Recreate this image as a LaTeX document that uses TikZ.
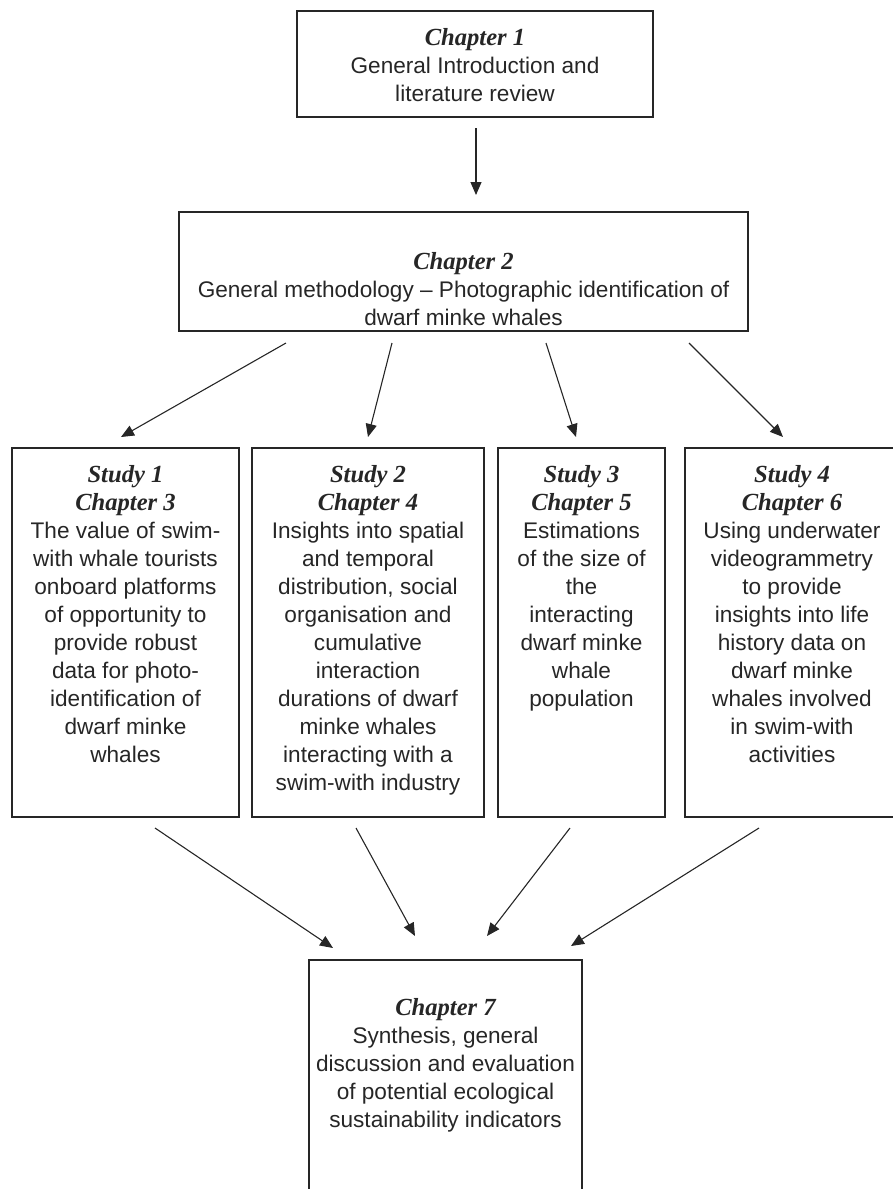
\documentclass[tikz,border=0pt]{standalone}
\usepackage{fontspec}
\setmainfont{Liberation Sans}
\newfontfamily\headserif{Liberation Serif}
\usetikzlibrary{arrows.meta,positioning}
\definecolor{inkgrey}{RGB}{38,38,38}
\newcommand{\chaphead}[1]{{\headserif\bfseries\itshape\fontsize{12.3}{14}\selectfont #1}}
\tikzset{
  chapbox/.style={draw=inkgrey,line width=0.65pt,inner sep=0pt,outer sep=0pt},
  chaptext/.style={align=center,inner sep=0pt,font=\fontsize{11.3}{14}\selectfont,text=black!85},
  arr/.style={-{Triangle[length=6.5pt,width=5.5pt]},draw=inkgrey,line width=0.55pt}
}

\begin{document}
\begin{tikzpicture}[x=0.5pt,y=-0.5pt]
  \useasboundingbox (0,0) rectangle (893,1189);
  \clip (0,0) rectangle (893,1189);

  % boxes
  \node[chapbox,minimum width=178pt,minimum height=53pt] (ch1) at (475,64) {};
  \node[chapbox,minimum width=284.5pt,minimum height=59.5pt] (ch2) at (463.5,271.5) {};
  \node[chapbox,minimum width=113.5pt,minimum height=184.5pt] (s1) at (125.5,632.5) {};
  \node[chapbox,minimum width=116pt,minimum height=184.5pt] (s2) at (368,632.5) {};
  \node[chapbox,minimum width=83.5pt,minimum height=184.5pt] (s3) at (581.5,632.5) {};
  \node[chapbox,minimum width=107pt,minimum height=184.5pt] (s4) at (792,632.5) {};
  \node[chapbox,minimum width=136.5pt,minimum height=120pt] (ch7) at (445.5,1080) {};

  % texts
  \node[chaptext,below=8.5pt of ch1.north] (ch1t)
    {\chaphead{Chapter 1}\\General Introduction and\\literature review};
  \node[chaptext,below=20pt of ch2.north] (ch2t)
    {\chaphead{Chapter 2}\\General methodology -- Photographic identification of\\dwarf minke whales};
  \node[chaptext,below=8.5pt of s1.north] (s1t)
    {\chaphead{Study 1}\\\chaphead{Chapter 3}\\The value of swim-\\with whale tourists\\onboard platforms\\of opportunity to\\provide robust\\data for photo-\\identification of\\dwarf minke\\whales};
  \node[chaptext,below=8.5pt of s2.north] (s2t)
    {\chaphead{Study 2}\\\chaphead{Chapter 4}\\Insights into spatial\\and temporal\\distribution, social\\organisation and\\cumulative\\interaction\\durations of dwarf\\minke whales\\interacting with a\\swim-with industry};
  \node[chaptext,below=8.5pt of s3.north] (s3t)
    {\chaphead{Study 3}\\\chaphead{Chapter 5}\\Estimations\\of the size of\\the\\interacting\\dwarf minke\\whale\\population};
  \node[chaptext,below=8.5pt of s4.north] (s4t)
    {\chaphead{Study 4}\\\chaphead{Chapter 6}\\Using underwater\\videogrammetry\\to provide\\insights into life\\history data on\\dwarf minke\\whales involved\\in swim-with\\activities};
  \node[chaptext,below=19pt of ch7.north] (ch7t)
    {\chaphead{Chapter 7}\\Synthesis, general\\discussion and evaluation\\of potential ecological\\sustainability indicators};

  % arrows
  \draw[arr] ([shift={(1,11)}]ch1.south) -- ([shift={(12.5,-17)}]ch2.north);
  \draw[arr] ([shift={(-177.5,12)}]ch2.south) -- ([shift={(-4.5,-11)}]s1.north);
  \draw[arr] ([shift={(-71.5,12)}]ch2.south) -- ([shift={(0,-11)}]s2.north);
  \draw[arr] ([shift={(82.5,12)}]ch2.south) -- ([shift={(-5.5,-11)}]s3.north);
  \draw[arr] ([shift={(225.5,12)}]ch2.south) -- ([shift={(-9,-11)}]s4.north);
  \draw[arr] ([shift={(29.5,11)}]s1.south) -- ([shift={(-112.5,-12)}]ch7.north);
  \draw[arr] ([shift={(-12,11)}]s2.south) -- ([shift={(-30.5,-24)}]ch7.north);
  \draw[arr] ([shift={(-11.5,11)}]s3.south) -- ([shift={(41.5,-24)}]ch7.north);
  \draw[arr] ([shift={(-33,11)}]s4.south) -- ([shift={(125.5,-14)}]ch7.north);
\end{tikzpicture}
\end{document}
